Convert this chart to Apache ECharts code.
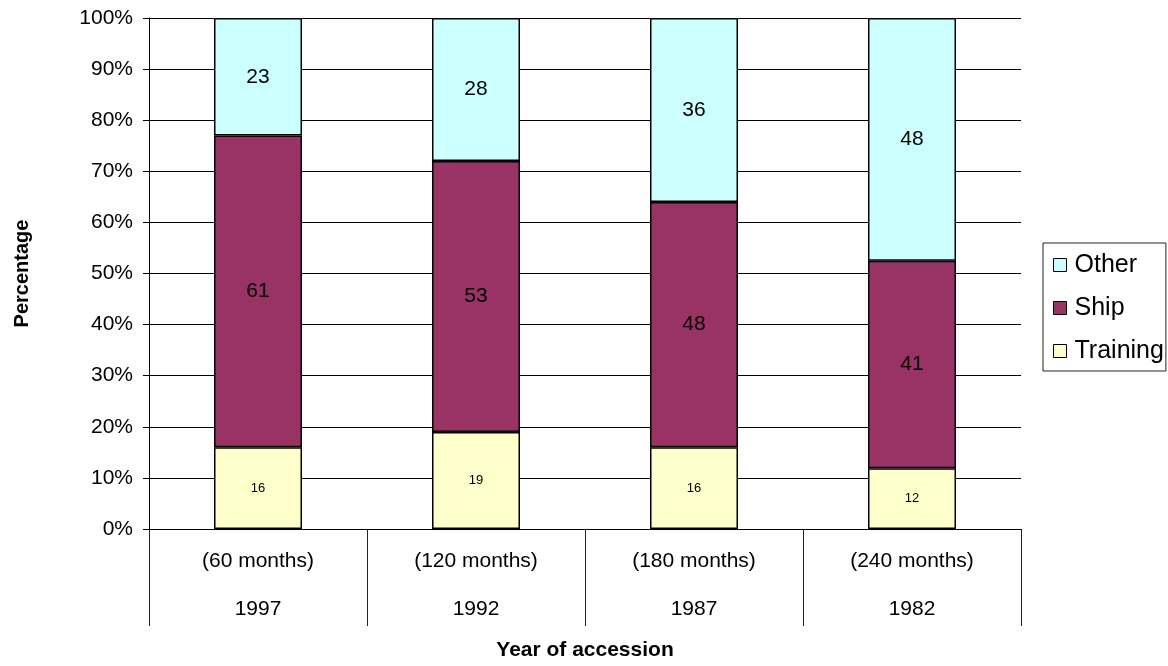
<!DOCTYPE html>
<html>
<head>
<meta charset="utf-8">
<script src="https://cdn.jsdelivr.net/npm/echarts@6/dist/echarts.min.js"></script>
<style>
  html, body { margin: 0; padding: 0; background: #fff; }
  #chart { width: 1168px; height: 666px; }
</style>
</head>
<body>
<div id="chart"></div>
<script>
// Duty-time composition by year of accession (100% stacked)
const periods = ['(60 months)', '(120 months)', '(180 months)', '(240 months)'];
const years = ['1997', '1992', '1987', '1982'];
const training = [16, 19, 16, 12];
const ship = [61, 53, 48, 41];
const other = [23, 28, 36, 48];
const yTicks = [0, 10, 20, 30, 40, 50, 60, 70, 80, 90, 100];

const FONT = '"Liberation Sans", Arial, sans-serif';
const totals = training.map((t, i) => t + ship[i] + other[i]);
const share = arr => arr.map((v, i) => v / totals[i] * 100);

const chart = echarts.init(document.getElementById('chart'), null, { renderer: 'canvas' });

function barSeries(name, values, color, fontSize) {
  return {
    name: name,
    type: 'bar',
    stack: 'total',
    barWidth: 88,
    data: share(values),
    itemStyle: { color: color, borderColor: '#000', borderWidth: 1.5 },
    label: {
      show: true,
      position: 'inside',
      color: '#000',
      fontFamily: FONT,
      fontSize: fontSize,
      formatter: p => String(values[p.dataIndex])
    },
    emphasis: { disabled: true }
  };
}

chart.setOption({
  animation: false,
  backgroundColor: '#fff',
  grid: { left: 149, right: 147, top: 18, bottom: 136, containLabel: false },
  legend: {
    orient: 'vertical',
    left: 1043,
    top: 243,
    data: ['Other', 'Ship', 'Training'],
    icon: 'rect',
    itemWidth: 13,
    itemHeight: 13,
    itemGap: 15,
    padding: [8, 2, 6, 10],
    borderColor: '#222',
    borderWidth: 1,
    itemStyle: { borderColor: '#000', borderWidth: 1 },
    textStyle: { fontFamily: FONT, fontSize: 25, color: '#000', lineHeight: 28, padding: [0, 0, 0, 3] },
    selectedMode: false
  },
  xAxis: {
    type: 'category',
    data: periods.map((p, i) => p + '\n' + years[i]),
    name: 'Year of accession',
    nameLocation: 'middle',
    nameGap: 111,
    nameTextStyle: { fontFamily: FONT, fontSize: 21, fontWeight: 'bold', color: '#000' },
    axisLine: { show: true, lineStyle: { color: '#000', width: 1 } },
    axisTick: { show: true, interval: 0, alignWithLabel: false, length: 97, lineStyle: { color: '#222', width: 1 } },
    axisLabel: {
      interval: 0,
      margin: 8,
      fontFamily: FONT,
      fontSize: 21,
      color: '#000',
      lineHeight: 48
    },
    splitLine: { show: false }
  },
  yAxis: {
    type: 'value',
    min: yTicks[0],
    max: yTicks[yTicks.length - 1],
    interval: 10,
    name: 'Percentage',
    nameLocation: 'middle',
    nameGap: 117,
    nameTextStyle: { fontFamily: FONT, fontSize: 20, fontWeight: 'bold', color: '#000' },
    axisLine: { show: true, lineStyle: { color: '#000', width: 1 } },
    axisTick: { show: true, length: 6, lineStyle: { color: '#000', width: 1 } },
    axisLabel: { fontFamily: FONT, fontSize: 21, color: '#000', margin: 16, formatter: '{value}%' },
    splitLine: { show: true, lineStyle: { color: '#000', width: 1 } }
  },
  series: [
    barSeries('Training', training, '#FFFFCC', 13),
    barSeries('Ship', ship, '#993366', 21),
    barSeries('Other', other, '#CCFFFF', 21)
  ]
});
</script>
</body>
</html>
